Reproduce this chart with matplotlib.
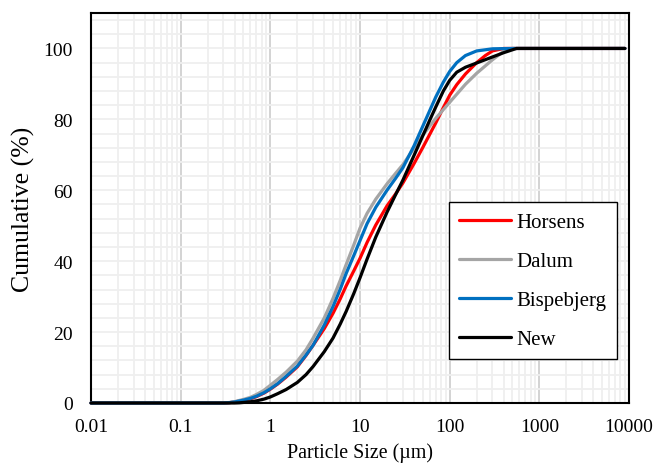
import matplotlib
matplotlib.use("Agg")
import matplotlib.pyplot as plt
from matplotlib.ticker import FixedLocator, FixedFormatter, MultipleLocator, NullFormatter, LogLocator

plt.rcParams['font.family'] = ['Liberation Serif', 'DejaVu Serif']

# particle size (um) and cumulative passing (%) for each sample
size_horsens = [0.01, 0.3, 0.35, 0.4, 0.5, 0.6, 0.7, 0.85, 1, 1.2, 1.5, 2, 2.5, 3, 4, 5, 6, 7,
                8.5, 10, 12, 15, 20, 25, 30, 40, 50, 60, 70, 85, 100, 120, 150, 200, 250,
                300, 400, 9000]
cum_horsens = [0, 0, 0.1, 0.3, 0.75, 1.2, 1.8, 2.8, 3.9, 5.3, 7.3, 10.2, 13.4, 16.3, 21.0,
               25.3, 29.3, 33.0, 37.2, 40.8, 45.3, 50.2, 55.6, 59.0, 62.0, 67.5, 72.0, 75.8,
               79.0, 83.3, 86.8, 89.8, 92.8, 96.0, 98.0, 99.3, 100, 100]

size_dalum = [0.01, 0.3, 0.35, 0.4, 0.5, 0.6, 0.7, 0.85, 1, 1.2, 1.5, 2, 2.5, 3, 4, 5, 6, 7,
              8.5, 10, 12, 15, 20, 25, 30, 40, 50, 70, 100, 150, 200, 300, 400, 450, 500, 9000]
cum_dalum = [0, 0, 0.15, 0.4, 1.0, 1.6, 2.4, 3.6, 5.0, 6.6, 8.7, 11.8, 15.0, 18.3, 24.0, 29.5,
             34.5, 39.0, 44.5, 49.3, 53.5, 57.5, 61.8, 64.8, 67.2, 71.8, 75.5, 80.3, 84.8,
             89.9, 93.0, 96.8, 99.2, 99.8, 100, 100]

size_bisp = [0.01, 0.3, 0.35, 0.4, 0.5, 0.6, 0.7, 0.85, 1, 1.2, 1.5, 2, 2.5, 3, 4, 5, 6, 7,
             8.5, 10, 12, 15, 20, 25, 30, 40, 50, 60, 70, 85, 100, 120, 150, 200, 300, 500, 9000]
cum_bisp = [0, 0, 0.1, 0.3, 0.8, 1.3, 1.9, 2.9, 4.0, 5.4, 7.5, 10.4, 13.5, 16.3, 22.0, 27.2,
            32.0, 36.5, 41.5, 45.8, 50.6, 55.2, 60.0, 63.4, 66.3, 72.5, 78.0, 82.5, 86.3,
            90.5, 93.5, 96.0, 98.0, 99.3, 99.9, 100, 100]

size_new = [0.01, 0.4, 0.45, 0.5, 0.6, 0.7, 0.85, 1, 1.2, 1.5, 2, 2.5, 3, 4, 5, 6, 7, 8.5, 10,
            12, 15, 20, 25, 30, 40, 50, 60, 70, 85, 100, 120, 150, 200, 300, 400, 557, 9000]
cum_new = [0, 0, 0.05, 0.15, 0.35, 0.6, 1.1, 1.7, 2.6, 3.8, 5.8, 8.0, 10.3, 14.5, 18.3, 22.2,
           25.8, 30.8, 35.3, 40.6, 46.8, 53.8, 58.8, 62.8, 69.8, 75.3, 79.8, 83.5, 88.0, 91.0,
           93.3, 94.7, 95.9, 97.6, 98.8, 100, 100]

x_ticks = [0.01, 0.1, 1, 10, 100, 1000, 10000]
x_tick_labels = ['0.01', '0.1', '1', '10', '100', '1000', '10000']
y_ticks = [0, 20, 40, 60, 80, 100]

fig = plt.figure(figsize=(6.56, 4.64), dpi=100)
ax = fig.add_axes([91 / 656, 1 - 404 / 464, 538 / 656, 390 / 464])

lw = 2.3
style = dict(lw=lw, clip_on=False, zorder=3, solid_joinstyle='round', solid_capstyle='round')
ax.plot(size_horsens, cum_horsens, color='#FF0000', label='Horsens', **style)
ax.plot(size_dalum, cum_dalum, color='#A5A5A5', label='Dalum', **style)
ax.plot(size_bisp, cum_bisp, color='#0070C0', label='Bispebjerg', **style)
ax.plot(size_new, cum_new, color='#000000', label='New', **style)

ax.set_xscale('log')
ax.set_xlim(0.01, 10000)
ax.set_ylim(0, 110)

ax.xaxis.set_major_locator(FixedLocator(x_ticks))
ax.xaxis.set_major_formatter(FixedFormatter(x_tick_labels))
ax.xaxis.set_minor_locator(LogLocator(base=10, subs=range(2, 10), numticks=20))
ax.xaxis.set_minor_formatter(NullFormatter())
ax.yaxis.set_major_locator(FixedLocator(y_ticks))
ax.yaxis.set_minor_locator(MultipleLocator(4))

ax.grid(True, which='minor', axis='both', color='#EFEFEF', lw=1.3, zorder=0)
ax.grid(True, which='major', axis='y', color='#EFEFEF', lw=1.3, zorder=0)
ax.grid(True, which='major', axis='x', color='#D0D0D0', lw=1.3, zorder=1)
ax.set_axisbelow(True)

ax.tick_params(which='both', length=0)
ax.tick_params(axis='y', pad=13, labelsize=14)
ax.tick_params(axis='x', pad=11, labelsize=14)

for s in ax.spines.values():
    s.set_linewidth(1.5)
    s.set_color('black')

ax.set_xlabel('Particle Size (µm)', fontsize=14.4, labelpad=5)
ax.set_ylabel('Cumulative (%)', fontsize=18.5, labelpad=6)

leg = ax.legend(loc='upper left', bbox_to_anchor=((449 - 91) / 538, (404 - 203) / 390),
                bbox_transform=ax.transAxes, borderaxespad=0, fontsize=15,
                frameon=True, fancybox=False, framealpha=1, edgecolor='black',
                handlelength=2.5, handletextpad=0.25, labelspacing=0.93, borderpad=0.5)
leg.get_frame().set_linewidth(1.0)
leg.set_zorder(5)

fig.savefig('out.png', dpi=100)
